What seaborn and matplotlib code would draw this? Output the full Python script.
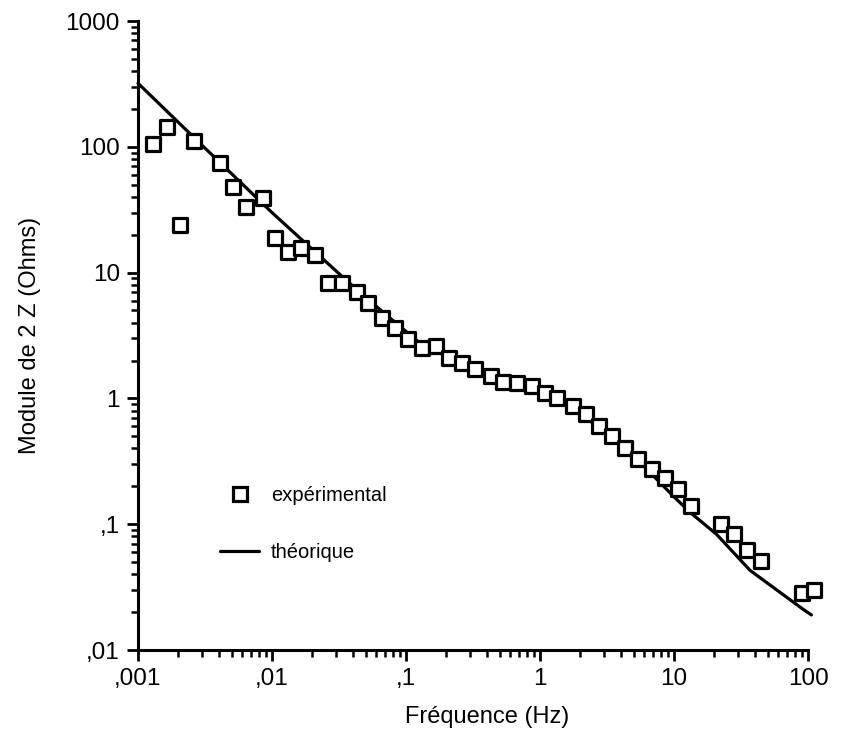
import numpy as np
import pandas as pd
import seaborn as sns
import matplotlib
matplotlib.use('Agg')
import matplotlib.pyplot as plt
from matplotlib.lines import Line2D

# mesures (points carrés)
freq_exp = [0.0013, 0.00164, 0.00206, 0.00263, 0.00409, 0.00509, 0.0064, 0.00853,
            0.0105, 0.0131, 0.0164, 0.0209, 0.0263, 0.0331, 0.0428, 0.0524,
            0.0659, 0.0828, 0.104, 0.131, 0.167, 0.210, 0.260, 0.327,
            0.428, 0.532, 0.677, 0.868, 1.09, 1.35, 1.77, 2.20,
            2.77, 3.43, 4.31, 5.42, 6.82, 8.58, 10.8, 13.5,
            22.4, 28.1, 35.2, 44.4, 89.8, 111]
z_exp = [105, 143, 23.9, 111, 74.8, 48.2, 33.4, 38.9,
         18.8, 14.7, 15.6, 13.8, 8.3, 8.3, 7.05, 5.7,
         4.34, 3.65, 2.95, 2.53, 2.61, 2.11, 1.92, 1.70,
         1.51, 1.36, 1.33, 1.26, 1.11, 1.0, 0.87, 0.75,
         0.60, 0.50, 0.406, 0.328, 0.273, 0.234, 0.189, 0.139,
         0.1005, 0.084, 0.062, 0.051, 0.0285, 0.030]

# courbe théorique
freq_th = [0.001, 0.003, 0.01, 0.032, 0.045, 0.075, 0.127, 0.213, 0.5, 1.0,
           1.58, 3.0, 5.0, 10, 13.1, 20.8, 36.9, 92.3, 106]
z_th = [320, 103, 30, 9.7, 7.0, 4.4, 2.75, 2.1, 1.45, 1.08,
        0.90, 0.55, 0.35, 0.165, 0.125, 0.083, 0.043, 0.021, 0.019]

xticks = [0.001, 0.01, 0.1, 1, 10, 100]
xlabels = [',001', ',01', ',1', '1', '10', '100']
yticks = [0.01, 0.1, 1, 10, 100, 1000]
ylabels = [',01', ',1', '1', '10', '100', '1000']

df_exp = pd.DataFrame({'f': freq_exp, 'z': z_exp})
df_th = pd.DataFrame({'f': freq_th, 'z': z_th})

sns.set_style('ticks')
plt.rcParams['font.family'] = ['Liberation Sans', 'DejaVu Sans']
plt.rcParams['text.color'] = 'black'
plt.rcParams['axes.labelcolor'] = 'black'

fig = plt.figure(figsize=(8.42, 7.36), dpi=100)
ax = fig.add_axes([138 / 842, 1 - 650 / 736, 670 / 842, 629 / 736])
ax.set_xscale('log')
ax.set_yscale('log')

sns.lineplot(data=df_th, x='f', y='z', sort=False, estimator=None,
             color='black', linewidth=2.3, ax=ax, clip_on=False)
sns.scatterplot(data=df_exp, x='f', y='z', marker='s', s=100,
                facecolor='white', edgecolor='black', linewidth=2.3,
                ax=ax, clip_on=False, zorder=3)

ax.set_xlim(0.001, 100)
ax.set_ylim(0.01, 1000)
ax.set_xticks(xticks)
ax.set_xticklabels(xlabels)
ax.set_yticks(yticks)
ax.set_yticklabels(ylabels)

for side in ['top', 'right']:
    ax.spines[side].set_visible(False)
for side in ['left', 'bottom']:
    ax.spines[side].set_linewidth(2.2)
    ax.spines[side].set_color('black')

ax.tick_params(which='major', direction='out', length=8, width=2, labelsize=17.5,
               colors='black', pad=5)
ax.tick_params(which='minor', direction='out', length=5, width=1.8, colors='black')

ax.set_xlabel('Fréquence (Hz)', fontsize=17)
ax.set_ylabel('Module de 2 Z (Ohms)', fontsize=17)
ax.xaxis.set_label_coords((487 - 138) / 670, -56 / 629)
ax.yaxis.set_label_coords(-97 / 670, 0.5)

handles = [
    Line2D([], [], marker='s', linestyle='none', markersize=10,
           markerfacecolor='white', markeredgecolor='black', markeredgewidth=2.3),
    Line2D([], [], color='black', linewidth=2.3),
]
ax.legend(handles, ['expérimental', 'théorique'], loc='upper left',
          bbox_to_anchor=(0.096, 0.29), frameon=False, fontsize=14.5,
          handlelength=1.9, handletextpad=0.6, labelspacing=1.9)

fig.savefig('out.png', dpi=100)
